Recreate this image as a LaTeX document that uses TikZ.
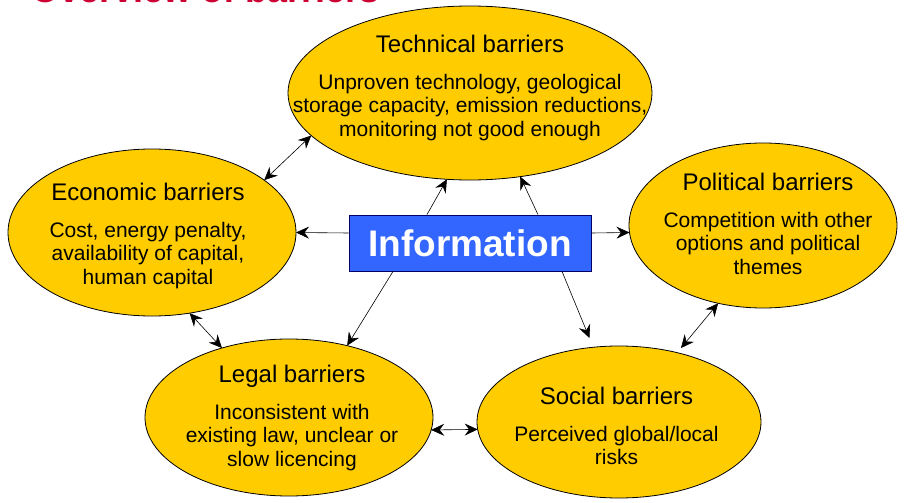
\documentclass[tikz,border=0pt]{standalone}
\usepackage{fontspec}
\setmainfont{Liberation Sans}
\usetikzlibrary{shapes.geometric,arrows.meta}

\definecolor{barrieryellow}{RGB}{255,204,0}
\definecolor{infoblue}{RGB}{51,102,255}
\definecolor{titlered}{RGB}{204,0,51}

% heading line of a barrier text
\newcommand\btitle[1]{{\fontsize{24}{28}\selectfont #1}\\[13.5pt]}

\begin{document}
\begin{tikzpicture}[x=1pt, y=-1pt,
    barrier/.style={draw, ellipse, fill=barrieryellow, line width=0.8pt, inner sep=0pt, outer sep=0pt},
    btext/.style={anchor=base, align=center, inner sep=0pt, font=\fontsize{21}{23.5}\selectfont},
    link/.style={line width=0.6pt, >={Stealth[length=13pt,width=12pt,inset=4.5pt]}}]
  \useasboundingbox (0,0) rectangle (906,503);

  \node[anchor=base west, inner sep=0pt, text=titlered, font=\bfseries\fontsize{36}{40}\selectfont] (title) at (31,3) {Overview of barriers};

  % the five barriers
  \node[barrier, minimum width=364pt, minimum height=174pt] (tech) at (470,93) {};
  \node[barrier, minimum width=288pt, minimum height=167pt] (econ) at (152,232.5) {};
  \node[barrier, minimum width=268pt, minimum height=165pt] (pol) at (763,225.5) {};
  \node[barrier, minimum width=288pt, minimum height=157pt] (legal) at (289,417.5) {};
  \node[barrier, minimum width=284pt, minimum height=152pt] (soc) at (619,422) {};

  % texts sit on the baseline of their last line
  \node[btext] (tech-t) at (470,136) {\btitle{Technical barriers}Unproven technology, geological\\storage capacity, emission reductions,\\monitoring not good enough};
  \node[btext] (econ-t) at (148,284) {\btitle{Economic barriers}Cost, energy penalty,\\availability of capital,\\human capital};
  \node[btext] (pol-t) at (768,274) {\btitle{Political barriers}Competition with other\\options and political\\themes};
  \node[btext] (legal-t) at (292,466) {\btitle{Legal barriers}Inconsistent with\\existing law, unclear or\\slow licencing};
  \node[btext] (soc-t) at (616.5,464.5) {\btitle{Social barriers}Perceived global/local\\risks};

  % information in the middle
  \node[draw=black!60!blue, fill=infoblue, text=white, line width=0.8pt, inner sep=0pt,
        minimum width=242pt, minimum height=56pt, font=\bfseries\fontsize{37}{40}\selectfont] (info) at (470,243) {Information};

  \draw[link, ->] ([xshift=-43pt]info.north) -- (tech.255);
  \draw[link, ->] ([xshift=68pt]info.north) -- (tech.301);
  \draw[link, ->] ([yshift=10pt]info.west) -- (econ.east);
  \draw[link, ->] ([yshift=10pt]info.east) -- (pol.183);
  \draw[link, ->] ([xshift=-77pt]info.south) -- (legal.51);
  \draw[link, ->, shorten >=10pt] ([xshift=92pt]info.south) -- (soc.109);

  \draw[link, <->] (tech.195) -- (econ.25);
  \draw[link, <->] (econ.295) -- (legal.134);
  \draw[link, <->] (legal.355) -- (soc.183);
  \draw[link, <->, shorten <=6pt] (soc.50) -- (pol.240);
\end{tikzpicture}
\end{document}
